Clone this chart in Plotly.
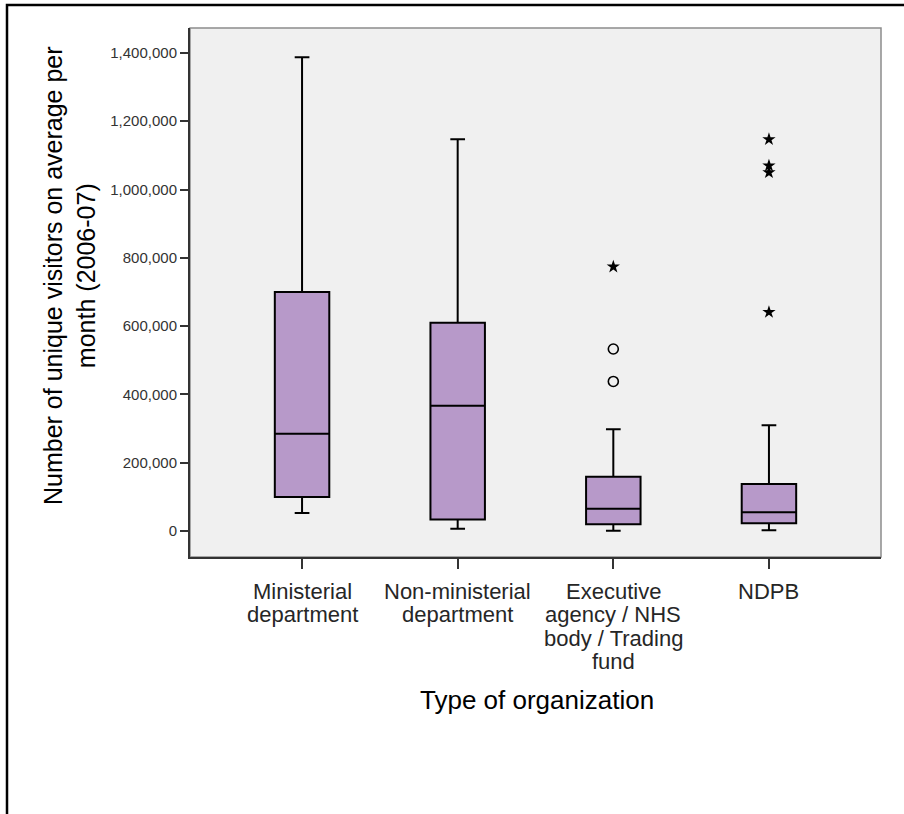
import plotly.graph_objects as go

# Box statistics
categories = ["Ministerial", "Non-ministerial", "Executive agency", "NDPB"]
tick_labels = [
    ["Ministerial", "department"],
    ["Non-ministerial", "department"],
    ["Executive", "agency / NHS", "body / Trading", "fund"],
    ["NDPB"],
]
lower_whisker = [53000, 7000, 1000, 2000]
q1 = [100000, 34000, 20000, 22500]
median = [285000, 367000, 65000, 55000]
q3 = [700000, 610000, 159000, 138000]
upper_whisker = [1387000, 1147000, 298000, 310000]

# Outliers (circles) and extremes (stars)
outlier_cat = ["Executive agency", "Executive agency"]
outlier_val = [533000, 438000]
extreme_cat = ["Executive agency", "NDPB", "NDPB", "NDPB", "NDPB"]
extreme_val = [774000, 1147000, 1070000, 1050000, 641000]

y_ticks = [0, 200000, 400000, 600000, 800000, 1000000, 1200000, 1400000]

W, H = 904, 814
ML, MR, MT, MB = 190, 23, 28, 257
PW, PH = W - ML - MR, H - MT - MB
FONT = "Liberation Sans, Arial"


def px_x(x):
    return (x - ML) / PW


def px_y(y):
    return (H - MB - y) / PH


fig = go.Figure()

fig.add_trace(
    go.Box(
        x=categories,
        q1=q1,
        median=median,
        q3=q3,
        lowerfence=lower_whisker,
        upperfence=upper_whisker,
        fillcolor="#B799C9",
        line=dict(color="#000000", width=2),
        width=0.35,
        whiskerwidth=0.27,
        boxpoints=False,
        showlegend=False,
        hoverinfo="skip",
    )
)

fig.add_trace(
    go.Scatter(
        x=outlier_cat,
        y=outlier_val,
        mode="markers",
        marker=dict(symbol="circle-open", size=10, color="#000000", line=dict(width=1.6)),
        showlegend=False,
    )
)
fig.add_trace(
    go.Scatter(
        x=extreme_cat,
        y=extreme_val,
        mode="markers",
        marker=dict(symbol="star", size=10, color="#000000", line=dict(width=0)),
        showlegend=False,
    )
)

# grey frame on top/right of the plot area
fig.add_shape(
    type="rect", xref="paper", yref="paper", x0=0, x1=1, y0=0, y1=1,
    line=dict(color="#8C8C8C", width=1.5), layer="below",
)
# black page border on the top and left
fig.add_shape(
    type="path", xref="paper", yref="paper",
    path=f"M {px_x(7)} {px_y(H + 20)} L {px_x(7)} {px_y(5)} L {px_x(W + 20)} {px_y(5)}",
    line=dict(color="#000000", width=2.5),
)

# category labels, one annotation per line (SPSS uses tight line spacing)
for cat, lines in zip(categories, tick_labels):
    for i, line in enumerate(lines):
        fig.add_annotation(
            text=line, xref="x", yref="paper", x=cat, y=px_y(591 + 23.5 * i),
            xanchor="center", yanchor="middle", showarrow=False,
            font=dict(family=FONT, size=22, color="#262626"),
        )

fig.add_annotation(
    text="Number of unique visitors on average per<br>month (2006-07)",
    xref="paper", yref="paper", x=px_x(69), y=px_y(276),
    xanchor="center", yanchor="middle", textangle=-90, showarrow=False,
    font=dict(family=FONT, size=25, color="#000000"),
)
fig.add_annotation(
    text="Type of organization",
    xref="paper", yref="paper", x=px_x(537), y=px_y(700),
    xanchor="center", yanchor="middle", showarrow=False,
    font=dict(family=FONT, size=26, color="#000000"),
)

fig.update_layout(
    width=W,
    height=H,
    margin=dict(l=ML, r=MR, t=MT, b=MB),
    paper_bgcolor="#FFFFFF",
    plot_bgcolor="#F0F0F0",
    font=dict(family=FONT, color="#222222"),
    xaxis=dict(
        type="category",
        categoryarray=categories,
        range=[-0.72, 3.72],
        showgrid=False,
        zeroline=False,
        showline=True,
        linecolor="#333333",
        linewidth=2,
        ticks="outside",
        ticklen=10,
        tickwidth=1.5,
        tickcolor="#333333",
        showticklabels=False,
    ),
    yaxis=dict(
        range=[-76000, 1473000],
        tickvals=y_ticks,
        tickformat=",",
        showgrid=False,
        zeroline=False,
        showline=True,
        linecolor="#333333",
        linewidth=2,
        ticks="outside",
        ticklen=8,
        tickwidth=1.5,
        tickcolor="#333333",
        tickfont=dict(size=15, color="#333333"),
    ),
)

# the page otherwise adds an 8px body margin around the figure
fig.write_html(
    "out.html",
    config={"displayModeBar": False},
    post_script="document.body.style.margin = '0px';",
)
